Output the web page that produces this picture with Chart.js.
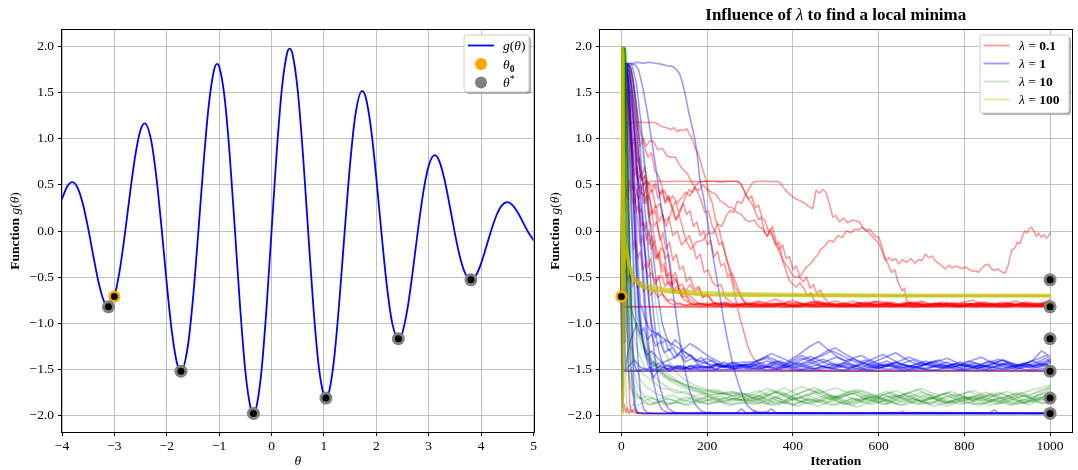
<!DOCTYPE html>
<html><head><meta charset="utf-8">
<script src="https://cdn.jsdelivr.net/npm/chart.js@4.4.1/dist/chart.umd.min.js"></script>
<style>
html,body{margin:0;padding:0;background:#fff;}
#wrap{position:relative;width:1078px;height:470px;overflow:hidden;}
canvas{position:absolute;top:0;}
</style></head><body>
<div id="wrap">
<canvas id="c1" width="540" height="470" style="left:0;width:540px;height:470px"></canvas>
<canvas id="c2" width="538" height="470" style="left:540px;width:538px;height:470px"></canvas>
</div>
<script>
// ---------------- DATA: left panel ----------------
const THETA = [-4.0,-3.9,-3.806,-3.7,-3.6,-3.5,-3.4,-3.3,-3.2,-3.114,-3.0,-2.9,-2.8,-2.7,-2.6,-2.5,-2.421,-2.3,-2.2,-2.1,-2.0,-1.9,-1.8,-1.729,-1.6,-1.5,-1.4,-1.3,-1.2,-1.1,-1.038,-1.0,-0.9,-0.8,-0.7,-0.6,-0.5,-0.4,-0.346,-0.3,-0.2,-0.1,
 0.0,0.1,0.2,0.3,0.346,0.4,0.5,0.6,0.7,0.8,0.9,1.0,1.038,1.1,1.2,1.3,1.4,1.5,1.6,1.729,1.8,1.9,2.0,2.1,2.2,2.3,2.421,2.5,2.6,2.7,2.8,2.9,3.0,3.114,3.2,3.3,3.4,3.5,3.6,3.7,3.806,3.9,4.0,4.1,4.2,4.3,4.4,4.498,4.6,4.7,4.8,4.9,5.0];
const G_VALUES = [0.351,0.483,0.530,0.466,0.291,0.028,-0.277,-0.562,-0.761,-0.822,-0.709,-0.433,-0.033,0.417,0.824,1.097,1.168,0.988,0.589,0.034,-0.573,-1.105,-1.445,-1.520,-1.258,-0.734,-0.028,0.720,1.356,1.741,1.812,1.785,1.465,0.835,0.016,-0.827,-1.521,-1.919,-1.978,-1.936,-1.561,-0.869,
 0,0.869,1.561,1.936,1.978,1.919,1.521,0.827,-0.016,-0.835,-1.465,-1.785,-1.812,-1.741,-1.356,-0.720,0.028,0.734,1.258,1.520,1.445,1.105,0.573,-0.034,-0.589,-0.988,-1.168,-1.097,-0.824,-0.417,0.033,0.433,0.709,0.822,0.761,0.562,0.277,-0.028,-0.291,-0.466,-0.530,-0.483,-0.351,-0.169,0.020,0.179,0.280,0.3125,0.281,0.200,0.094,-0.013,-0.100];
const STAR_X = [-3.114,-1.729,-0.346,1.038,2.421,3.806];
const STAR_Y = [-0.822,-1.520,-1.978,-1.812,-1.168,-0.530];
const THETA0_X = -3.0;
const THETA0_Y = -0.71;
const THETA_TICKS = [-4,-3,-2,-1,0,1,2,3,4,5];
const Y_TICKS = [-2,-1.5,-1,-0.5,0,0.5,1,1.5,2];
const ITER_TICKS = [0,200,400,600,800,1000];
const LEGEND_RIGHT = ['0.1','1','10','100'];

// ---------------- DATA: right panel (iteration, value) ----------------
const L_GRID = [300,320,340,360,380,400,420,440,460,480,500,520,540,560,580,600,620,640,660,680,700,720,740,760,780,800,820,840,860,880,900,920,940,960,980,1000];
const L_GRID2 = [310,330,350,370,390,410,430,450,470,490,510,530,550,570,590,610,630,650,670,690,710,730,750,770,790,810,830,850,870,890,910,930,950,970,990,1000];

const RB_a = [-0.80,-0.82,-0.79,-0.81,-0.83,-0.80,-0.78,-0.81,-0.82,-0.80,-0.79,-0.82,-0.81,-0.78,-0.80,-0.82,-0.81,-0.79,-0.80,-0.83,-0.81,-0.79,-0.82,-0.80,-0.78,-0.81,-0.82,-0.80,-0.79,-0.81,-0.83,-0.80,-0.81,-0.79,-0.82,-0.80];
const RB_b = [-0.78,-0.76,-0.79,-0.81,-0.78,-0.75,-0.79,-0.80,-0.77,-0.80,-0.82,-0.79,-0.76,-0.78,-0.81,-0.79,-0.77,-0.80,-0.82,-0.78,-0.76,-0.79,-0.81,-0.78,-0.80,-0.77,-0.75,-0.79,-0.81,-0.80,-0.78,-0.76,-0.79,-0.81,-0.78,-0.77];
const RB_c = [-0.82,-0.80,-0.81,-0.78,-0.80,-0.82,-0.81,-0.79,-0.76,-0.79,-0.81,-0.82,-0.80,-0.81,-0.78,-0.80,-0.82,-0.81,-0.77,-0.79,-0.81,-0.82,-0.80,-0.78,-0.81,-0.82,-0.79,-0.80,-0.82,-0.78,-0.80,-0.81,-0.79,-0.82,-0.80,-0.79];
const RB_d = [-0.79,-0.81,-0.77,-0.74,-0.78,-0.80,-0.82,-0.79,-0.81,-0.78,-0.76,-0.79,-0.82,-0.80,-0.79,-0.76,-0.78,-0.81,-0.79,-0.80,-0.77,-0.80,-0.78,-0.81,-0.79,-0.82,-0.80,-0.77,-0.79,-0.82,-0.79,-0.80,-0.77,-0.78,-0.80,-0.74];
const RB_e = [-0.81,-0.79,-0.82,-0.80,-0.79,-0.81,-0.80,-0.82,-0.79,-0.81,-0.80,-0.78,-0.81,-0.82,-0.80,-0.81,-0.79,-0.82,-0.80,-0.81,-0.82,-0.80,-0.79,-0.81,-0.82,-0.80,-0.81,-0.79,-0.80,-0.82,-0.81,-0.80,-0.82,-0.80,-0.81,-0.79];
const RB_f = [-0.80,-0.77,-0.80,-0.82,-0.79,-0.80,-0.81,-0.77,-0.79,-0.82,-0.80,-0.78,-0.80,-0.79,-0.82,-0.81,-0.78,-0.80,-0.79,-0.77,-0.80,-0.82,-0.79,-0.80,-0.81,-0.78,-0.80,-0.81,-0.79,-0.80,-0.78,-0.81,-0.80,-0.82,-0.79,-0.81];
const RB_g = [-0.79,-0.81,-0.80,-0.78,-0.81,-0.82,-0.79,-0.80,-0.78,-0.81,-0.80,-0.82,-0.79,-0.77,-0.80,-0.81,-0.79,-0.82,-0.80,-0.78,-0.81,-0.79,-0.80,-0.82,-0.81,-0.79,-0.78,-0.80,-0.82,-0.81,-0.79,-0.80,-0.78,-0.81,-0.80,-0.79];
const RB_h = [-0.81,-0.80,-0.78,-0.80,-0.82,-0.80,-0.79,-0.76,-0.79,-0.81,-0.82,-0.80,-0.78,-0.80,-0.81,-0.79,-0.82,-0.80,-0.78,-0.79,-0.81,-0.80,-0.77,-0.80,-0.82,-0.80,-0.79,-0.81,-0.78,-0.80,-0.82,-0.79,-0.80,-0.81,-0.77,-0.78];
const RB_i = [-0.80,-0.82,-0.81,-0.79,-0.80,-0.77,-0.80,-0.82,-0.80,-0.79,-0.81,-0.80,-0.82,-0.79,-0.76,-0.79,-0.81,-0.80,-0.82,-0.80,-0.79,-0.81,-0.82,-0.80,-0.78,-0.80,-0.81,-0.82,-0.79,-0.80,-0.81,-0.78,-0.80,-0.82,-0.80,-0.81];
const RB_j = [-0.82,-0.81,-0.82,-0.80,-0.81,-0.82,-0.80,-0.81,-0.82,-0.81,-0.80,-0.82,-0.81,-0.82,-0.80,-0.81,-0.82,-0.81,-0.80,-0.82,-0.81,-0.82,-0.81,-0.80,-0.82,-0.81,-0.82,-0.80,-0.81,-0.82,-0.81,-0.80,-0.82,-0.81,-0.82,-0.81];
const RB_k = [-0.78,-0.80,-0.79,-0.81,-0.77,-0.79,-0.81,-0.80,-0.78,-0.80,-0.82,-0.79,-0.81,-0.80,-0.77,-0.80,-0.79,-0.81,-0.78,-0.80,-0.82,-0.79,-0.80,-0.78,-0.81,-0.79,-0.80,-0.82,-0.80,-0.77,-0.80,-0.81,-0.79,-0.80,-0.78,-0.76];

const BB_a = [-1.46,-1.43,-1.45,-1.41,-1.44,-1.38,-1.32,-1.25,-1.20,-1.28,-1.35,-1.41,-1.38,-1.43,-1.46,-1.44,-1.47,-1.43,-1.45,-1.48,-1.46,-1.42,-1.45,-1.47,-1.44,-1.46,-1.43,-1.45,-1.48,-1.46,-1.44,-1.47,-1.45,-1.40,-1.30,-1.36];
const BB_b = [-1.44,-1.40,-1.36,-1.40,-1.45,-1.42,-1.38,-1.41,-1.36,-1.30,-1.27,-1.33,-1.38,-1.35,-1.40,-1.44,-1.41,-1.46,-1.43,-1.40,-1.44,-1.47,-1.45,-1.42,-1.46,-1.44,-1.40,-1.37,-1.42,-1.45,-1.43,-1.47,-1.44,-1.46,-1.42,-1.40];
const BB_c = [-1.48,-1.50,-1.47,-1.49,-1.46,-1.48,-1.50,-1.47,-1.45,-1.48,-1.49,-1.46,-1.48,-1.50,-1.47,-1.49,-1.46,-1.48,-1.45,-1.47,-1.49,-1.48,-1.46,-1.49,-1.47,-1.50,-1.48,-1.46,-1.49,-1.47,-1.48,-1.50,-1.47,-1.49,-1.46,-1.48];
const BB_d = [-1.45,-1.41,-1.38,-1.43,-1.46,-1.40,-1.35,-1.39,-1.44,-1.41,-1.37,-1.40,-1.45,-1.48,-1.44,-1.40,-1.36,-1.32,-1.38,-1.43,-1.46,-1.44,-1.41,-1.38,-1.42,-1.46,-1.48,-1.45,-1.42,-1.39,-1.43,-1.46,-1.44,-1.41,-1.45,-1.43];
const BB_e = [-1.47,-1.45,-1.48,-1.44,-1.46,-1.49,-1.45,-1.42,-1.46,-1.48,-1.45,-1.43,-1.47,-1.45,-1.48,-1.46,-1.44,-1.47,-1.49,-1.46,-1.43,-1.45,-1.48,-1.46,-1.44,-1.47,-1.45,-1.48,-1.46,-1.43,-1.46,-1.48,-1.45,-1.47,-1.44,-1.46];
const BB_f = [-1.50,-1.49,-1.51,-1.50,-1.48,-1.50,-1.51,-1.49,-1.50,-1.48,-1.50,-1.51,-1.49,-1.50,-1.51,-1.48,-1.50,-1.49,-1.51,-1.50,-1.49,-1.51,-1.50,-1.48,-1.50,-1.51,-1.49,-1.50,-1.51,-1.49,-1.50,-1.48,-1.50,-1.51,-1.49,-1.50];
const BB_g = [-1.47,-1.44,-1.41,-1.45,-1.48,-1.45,-1.40,-1.36,-1.40,-1.44,-1.47,-1.43,-1.39,-1.42,-1.46,-1.49,-1.45,-1.42,-1.46,-1.49,-1.47,-1.43,-1.40,-1.44,-1.47,-1.45,-1.48,-1.44,-1.41,-1.45,-1.48,-1.46,-1.43,-1.46,-1.44,-1.41];
const BB_h = [-1.45,-1.48,-1.44,-1.41,-1.45,-1.48,-1.46,-1.42,-1.39,-1.43,-1.46,-1.49,-1.45,-1.42,-1.38,-1.34,-1.39,-1.44,-1.47,-1.44,-1.41,-1.45,-1.48,-1.45,-1.42,-1.46,-1.49,-1.46,-1.43,-1.40,-1.44,-1.47,-1.45,-1.42,-1.38,-1.42];
const BB_i = [-1.49,-1.46,-1.48,-1.50,-1.47,-1.45,-1.48,-1.50,-1.47,-1.49,-1.46,-1.44,-1.47,-1.50,-1.48,-1.45,-1.47,-1.49,-1.46,-1.48,-1.50,-1.47,-1.45,-1.48,-1.50,-1.47,-1.49,-1.46,-1.48,-1.50,-1.47,-1.45,-1.48,-1.46,-1.44,-1.47];
const BB_j = [-1.42,-1.38,-1.33,-1.37,-1.41,-1.45,-1.42,-1.38,-1.35,-1.30,-1.34,-1.39,-1.43,-1.40,-1.44,-1.47,-1.44,-1.41,-1.37,-1.40,-1.44,-1.41,-1.45,-1.48,-1.45,-1.41,-1.44,-1.47,-1.43,-1.40,-1.43,-1.46,-1.42,-1.39,-1.35,-1.39];
const BB_k = [-1.47,-1.49,-1.46,-1.48,-1.45,-1.43,-1.46,-1.49,-1.47,-1.44,-1.47,-1.49,-1.46,-1.43,-1.46,-1.48,-1.45,-1.47,-1.50,-1.47,-1.44,-1.47,-1.49,-1.46,-1.48,-1.45,-1.47,-1.50,-1.47,-1.44,-1.47,-1.49,-1.46,-1.48,-1.45,-1.47];

const GB_a = [-1.82,-1.78,-1.84,-1.80,-1.76,-1.81,-1.85,-1.79,-1.83,-1.86,-1.80,-1.77,-1.82,-1.84,-1.79,-1.81,-1.85,-1.82,-1.78,-1.80,-1.84,-1.87,-1.83,-1.79,-1.82,-1.85,-1.81,-1.78,-1.83,-1.86,-1.82,-1.79,-1.84,-1.81,-1.77,-1.80];
const GB_b = [-1.76,-1.73,-1.78,-1.74,-1.70,-1.75,-1.79,-1.76,-1.72,-1.77,-1.80,-1.76,-1.73,-1.78,-1.81,-1.77,-1.74,-1.79,-1.82,-1.78,-1.75,-1.79,-1.83,-1.80,-1.77,-1.81,-1.84,-1.80,-1.78,-1.82,-1.79,-1.76,-1.80,-1.77,-1.74,-1.70];
const GB_c = [-1.87,-1.85,-1.88,-1.84,-1.86,-1.89,-1.85,-1.87,-1.90,-1.86,-1.84,-1.87,-1.89,-1.85,-1.88,-1.86,-1.83,-1.87,-1.89,-1.86,-1.88,-1.85,-1.87,-1.90,-1.86,-1.84,-1.88,-1.86,-1.89,-1.87,-1.85,-1.88,-1.86,-1.84,-1.87,-1.85];
const GB_d = [-1.83,-1.80,-1.77,-1.81,-1.84,-1.79,-1.75,-1.72,-1.76,-1.80,-1.83,-1.79,-1.76,-1.80,-1.83,-1.86,-1.82,-1.78,-1.81,-1.84,-1.80,-1.77,-1.81,-1.85,-1.82,-1.79,-1.83,-1.80,-1.76,-1.79,-1.83,-1.81,-1.78,-1.82,-1.80,-1.76];
const GB_e = [-1.84,-1.87,-1.83,-1.80,-1.84,-1.88,-1.85,-1.82,-1.86,-1.83,-1.79,-1.83,-1.87,-1.84,-1.81,-1.85,-1.88,-1.84,-1.82,-1.86,-1.83,-1.80,-1.84,-1.87,-1.83,-1.81,-1.85,-1.88,-1.84,-1.81,-1.85,-1.82,-1.86,-1.83,-1.80,-1.78];
const GB_f = [-1.85,-1.82,-1.86,-1.89,-1.84,-1.81,-1.85,-1.88,-1.83,-1.86,-1.89,-1.85,-1.82,-1.86,-1.84,-1.80,-1.84,-1.87,-1.84,-1.81,-1.85,-1.88,-1.84,-1.86,-1.83,-1.87,-1.85,-1.82,-1.85,-1.88,-1.84,-1.86,-1.83,-1.85,-1.82,-1.84];
const GB_g = [-1.78,-1.75,-1.71,-1.74,-1.78,-1.73,-1.69,-1.72,-1.76,-1.73,-1.70,-1.74,-1.77,-1.73,-1.76,-1.80,-1.76,-1.73,-1.77,-1.74,-1.71,-1.75,-1.78,-1.75,-1.79,-1.76,-1.73,-1.77,-1.80,-1.77,-1.74,-1.78,-1.75,-1.72,-1.70,-1.67];
const GB_h = [-1.81,-1.84,-1.80,-1.83,-1.87,-1.83,-1.80,-1.84,-1.81,-1.78,-1.82,-1.85,-1.81,-1.84,-1.80,-1.83,-1.86,-1.83,-1.79,-1.82,-1.85,-1.82,-1.80,-1.83,-1.86,-1.83,-1.80,-1.84,-1.82,-1.85,-1.81,-1.84,-1.87,-1.84,-1.81,-1.83];
const GB_i = [-1.79,-1.82,-1.78,-1.75,-1.79,-1.83,-1.80,-1.77,-1.74,-1.78,-1.82,-1.79,-1.76,-1.80,-1.77,-1.81,-1.84,-1.80,-1.77,-1.80,-1.78,-1.82,-1.79,-1.76,-1.80,-1.83,-1.79,-1.82,-1.78,-1.75,-1.79,-1.82,-1.78,-1.81,-1.77,-1.74];
const GB_j = [-1.80,-1.83,-1.86,-1.82,-1.79,-1.83,-1.86,-1.82,-1.85,-1.81,-1.84,-1.88,-1.84,-1.81,-1.85,-1.82,-1.79,-1.83,-1.86,-1.82,-1.85,-1.81,-1.84,-1.87,-1.83,-1.80,-1.84,-1.81,-1.85,-1.82,-1.79,-1.83,-1.86,-1.82,-1.84,-1.81];
const GB_k = [-1.84,-1.81,-1.85,-1.88,-1.84,-1.80,-1.83,-1.86,-1.82,-1.79,-1.83,-1.87,-1.84,-1.81,-1.85,-1.82,-1.78,-1.81,-1.85,-1.88,-1.84,-1.81,-1.84,-1.87,-1.83,-1.80,-1.83,-1.86,-1.82,-1.85,-1.88,-1.84,-1.81,-1.84,-1.80,-1.77];
const GB_l = [-1.78,-1.81,-1.77,-1.74,-1.78,-1.82,-1.79,-1.76,-1.80,-1.83,-1.79,-1.75,-1.72,-1.76,-1.80,-1.77,-1.81,-1.78,-1.75,-1.79,-1.83,-1.80,-1.77,-1.81,-1.78,-1.74,-1.78,-1.82,-1.79,-1.76,-1.80,-1.77,-1.81,-1.78,-1.74,-1.71];
const GB_m = [-1.88,-1.86,-1.89,-1.85,-1.87,-1.90,-1.87,-1.84,-1.87,-1.89,-1.86,-1.88,-1.91,-1.87,-1.85,-1.88,-1.86,-1.89,-1.86,-1.84,-1.87,-1.90,-1.87,-1.85,-1.88,-1.86,-1.89,-1.87,-1.84,-1.87,-1.89,-1.86,-1.88,-1.85,-1.87,-1.84];
const GB_n = [-1.81,-1.77,-1.73,-1.76,-1.80,-1.77,-1.73,-1.70,-1.74,-1.78,-1.81,-1.77,-1.74,-1.78,-1.82,-1.78,-1.75,-1.79,-1.76,-1.72,-1.76,-1.80,-1.77,-1.74,-1.78,-1.81,-1.78,-1.75,-1.79,-1.82,-1.78,-1.75,-1.78,-1.74,-1.71,-1.68];

// red runs (lambda = 0.1)
const R1 = [[0,-0.71],[2,0.3],[4,1.2],[7,1.7],[12,1.78],[18,1.6],[25,1.3],[32,1.0],[40,0.75],[48,0.55],[56,0.6],[64,0.4],[72,0.45],[80,0.25],[90,0.3],[100,0.1],[110,0.15],[120,-0.05],[130,0.0],[140,-0.15],[150,-0.1],[162,-0.2],[175,-0.12],[190,-0.1],[202,-0.02],[214,-0.03],[224,0.08],[234,0.05],[244,0.16],[253,0.22],[262,0.2],[270,0.32],[280,0.30],[290,0.40],[299,0.47],[307,0.53],[320,0.54],[335,0.54],[350,0.535],[362,0.54],[369,0.53],[380,0.46],[392,0.40],[403,0.36],[415,0.33],[425,0.31],[436,0.27],[446,0.24],[454,0.44],[462,0.41],[470,0.45],[477,0.42],[485,0.30],[493,0.15],[500,0.17],[508,0.10],[518,0.14],[528,0.09],[540,0.12],[555,0.10],[563,0.04],[570,0.0],[580,0.02],[590,-0.05],[601,-0.07],[608,-0.18],[616,-0.32],[624,-0.29],[632,-0.32],[640,-0.30],[647,-0.36],[655,-0.31],[665,-0.34],[675,-0.30],[685,-0.35],[693,-0.31],[701,-0.32],[709,-0.25],[717,-0.29],[725,-0.27],[732,-0.32],[740,-0.35],[748,-0.38],[756,-0.41],[764,-0.37],[772,-0.40],[780,-0.38],[787,-0.39],[795,-0.41],[803,-0.39],[812,-0.42],[820,-0.44],[827,-0.43],[833,-0.45],[840,-0.41],[848,-0.37],[856,-0.36],[863,-0.41],[870,-0.43],[878,-0.41],[886,-0.44],[895,-0.46],[902,-0.38],[910,-0.21],[917,-0.19],[924,-0.12],[930,-0.14],[936,-0.05],[941,0.0],[947,-0.02],[952,0.03],[957,0.04],[963,-0.01],[968,-0.06],[973,-0.02],[980,-0.07],[986,-0.04],[992,-0.08],[997,-0.05],[1000,-0.02]];
const R2 = [[0,-0.71],[2,0.2],[4,0.8],[7,1.1],[10,1.18],[20,1.17],[30,1.18],[45,1.18],[60,1.175],[75,1.18],[85,1.16],[95,1.13],[105,1.12],[115,1.10],[122,1.12],[130,1.08],[138,1.10],[146,1.09],[152,1.11],[158,1.06],[165,1.0],[172,0.90],[178,0.85],[183,0.78],[190,0.66],[197,0.56],[204,0.40],[212,0.30],[220,0.12],[228,0.02],[236,-0.15],[244,-0.28],[252,-0.43],[261,-0.61],[270,-0.82],[278,-0.97],[286,-1.10],[294,-1.24],[302,-1.33],[310,-1.39],[320,-1.43],[330,-1.46],[345,-1.49],[369,-1.51],[450,-1.515],[600,-1.52],[800,-1.515],[1000,-1.52]];
const R3 = [[0,-0.71],[1,-1.1],[2,-1.45],[4,-1.52],[100,-1.52],[400,-1.52],[700,-1.515],[1000,-1.52]];
const R4 = [[0,-0.71],[2,-0.78],[5,-0.82],[10,-0.825],[1000,-0.825]];
const R5 = [[0,-0.71],[1,-0.5],[2,-0.3],[3,-0.7],[5,-0.83],[9,-0.82],[1000,-0.82]];
const R7 = [[0,-0.71],[2,-1.4],[4,-1.96],[7,-1.88],[10,-1.97],[14,-1.92],[18,-1.98],[24,-1.94],[30,-1.97],[40,-1.98],[200,-1.975],[206,-1.96],[212,-1.975],[400,-1.975],[650,-1.97],[656,-1.955],[662,-1.975],[1000,-1.975]];
const R18 = [[0,-0.71],[2,0.9],[4,1.7],[6,1.2],[9,0.2],[12,-0.8],[16,-1.5],[20,-1.9],[24,-1.97],[30,-1.93],[36,-1.97],[50,-1.98],[300,-1.975],[310,-1.955],[318,-1.975],[1000,-1.98]];
const R8_HEAD = [[0,-0.71],[2,0.6],[4,1.3],[7,1.75],[12,1.8],[18,1.72],[25,1.5],[32,1.2],[38,0.9],[45,0.6],[52,0.5],[58,0.55],[65,0.1],[72,0.05],[78,-0.1],[85,-0.3],[92,-0.18],[100,-0.22],[106,-0.45],[115,-0.6],[122,-0.5],[130,-0.56],[140,-0.72],[150,-0.70],[160,-0.78],[170,-0.80],[185,-0.79],[200,-0.81],[220,-0.78],[240,-0.80],[260,-0.82],[280,-0.79]];
const R9_HEAD = [[0,-0.71],[2,0.9],[5,1.6],[9,1.82],[15,1.80],[22,1.78],[28,1.6],[34,1.4],[40,1.2],[46,1.05],[52,1.0],[58,0.92],[66,0.98],[75,0.97],[85,0.88],[95,0.90],[105,0.82],[115,0.80],[126,0.80],[135,0.72],[145,0.66],[154,0.62],[162,0.55],[170,0.48],[178,0.42],[186,0.33],[195,0.20],[203,0.22],[212,0.05],[220,-0.02],[228,-0.15],[236,-0.12],[245,-0.30],[254,-0.42],[262,-0.50],[270,-0.60],[278,-0.70],[288,-0.78]];
const R10 = [[0,-0.71],[2,-0.1],[4,0.6],[7,1.2],[11,1.5],[16,1.35],[22,1.0],[28,0.7],[34,0.45],[40,0.35],[46,0.42],[52,0.38],[58,0.48],[64,0.52],[70,0.54],[90,0.54],[110,0.535],[130,0.54],[150,0.54],[170,0.535],[190,0.54],[210,0.54],[230,0.535],[250,0.54],[266,0.54],[276,0.53],[284,0.46],[292,0.38],[299,0.33],[306,0.28],[313,0.20],[320,0.12],[326,0.15],[333,0.0],[340,-0.06],[347,0.02],[354,-0.08],[361,-0.15],[368,-0.12],[375,-0.30],[383,-0.42],[392,-0.54],[400,-0.58],[408,-0.61],[416,-0.56],[425,-0.62],[434,-0.70],[442,-0.67],[450,-0.76],[460,-0.79],[470,-0.80],[490,-0.78],[510,-0.81],[530,-0.79],[550,-0.82],[570,-0.78],[590,-0.80],[610,-0.81],[630,-0.77],[650,-0.80],[670,-0.82],[690,-0.79],[710,-0.80],[730,-0.78],[750,-0.81],[770,-0.80],[790,-0.82],[810,-0.79],[830,-0.80],[850,-0.77],[870,-0.80],[890,-0.81],[910,-0.79],[930,-0.82],[950,-0.80],[970,-0.78],[990,-0.80],[1000,-0.79]];
const R12 = [[0,-0.71],[2,0.5],[4,1.4],[6,1.8],[10,1.78],[15,1.55],[20,1.2],[26,0.9],[32,0.7],[38,0.55],[45,0.62],[52,0.5],[60,0.54],[70,0.48],[80,0.52],[90,0.40],[100,0.44],[110,0.32],[120,0.38],[130,0.30],[140,0.36],[150,0.42],[160,0.38],[170,0.47],[180,0.44],[190,0.50],[200,0.45],[210,0.42],[220,0.40],[230,0.33],[240,0.30],[250,0.26],[260,0.25],[270,0.20],[280,0.18],[290,0.12],[300,0.10],[310,0.12],[320,0.05],[330,0.02],[340,-0.05],[350,-0.02],[360,-0.15],[368,-0.22],[375,-0.30],[383,-0.36],[390,-0.40],[398,-0.47],[405,-0.50],[415,-0.50],[423,-0.45],[430,-0.40],[440,-0.36],[450,-0.30],[458,-0.26],[465,-0.20],[475,-0.16],[485,-0.10],[495,-0.12],[505,-0.05],[515,-0.07],[525,0.00],[535,-0.02],[545,0.02],[553,0.01],[560,0.04],[568,0.02],[575,0.0],[583,-0.05],[590,-0.08],[601,-0.14],[608,-0.22],[615,-0.30],[622,-0.36],[630,-0.45],[638,-0.42],[645,-0.55],[650,-0.60],[655,-0.65],[660,-0.62],[665,-0.75],[672,-0.78],[680,-0.80],[700,-0.79],[720,-0.81],[740,-0.78],[760,-0.80],[780,-0.82],[800,-0.79],[820,-0.80],[840,-0.78],[860,-0.81],[880,-0.80],[900,-0.79],[920,-0.81],[940,-0.78],[960,-0.80],[980,-0.82],[1000,-0.79]];
const R14_HEAD = [[0,-0.71],[2,-0.3],[4,0.4],[7,0.2],[10,0.5],[14,0.35],[20,0.55],[26,0.3],[32,0.35],[38,0.1],[44,-0.15],[50,-0.05],[56,-0.25],[62,-0.4],[68,-0.3],[74,-0.5],[80,-0.55],[87,-0.48],[95,-0.68],[103,-0.72],[112,-0.78],[122,-0.80],[135,-0.78],[150,-0.81],[165,-0.79],[180,-0.82],[200,-0.80],[220,-0.78],[240,-0.81],[260,-0.80],[280,-0.82]];
const R15_HEAD = [[0,-0.71],[2,1.0],[4,1.8],[8,1.75],[12,1.6],[17,1.3],[22,0.95],[27,0.65],[32,0.3],[37,0.45],[42,0.2],[47,0.25],[53,0.0],[59,0.1],[65,-0.15],[72,-0.05],[79,-0.3],[86,-0.25],[93,-0.45],[100,-0.4],[108,-0.58],[116,-0.55],[125,-0.66],[135,-0.62],[145,-0.74],[155,-0.77],[165,-0.80],[180,-0.78],[200,-0.81],[220,-0.79],[240,-0.77],[260,-0.80],[280,-0.81]];
const R16_HEAD = [[0,-0.71],[2,0.6],[4,1.2],[7,1.6],[11,1.8],[17,1.78],[23,1.62],[29,1.38],[35,1.05],[41,0.75],[47,0.55],[53,0.6],[59,0.35],[65,0.4],[72,0.18],[79,0.22],[86,0.0],[94,-0.12],[102,-0.3],[110,-0.25],[118,-0.5],[126,-0.45],[134,-0.6],[142,-0.58],[152,-0.68],[165,-0.72],[178,-0.78],[190,-0.80],[210,-0.79],[230,-0.82],[250,-0.80],[270,-0.78],[285,-0.81]];
const R17_HEAD = [[0,-0.71],[2,0.2],[4,1.3],[7,1.82],[14,1.81],[20,1.72],[26,1.5],[32,1.3],[38,1.1],[44,0.92],[50,1.0],[56,0.88],[62,0.8],[70,0.85],[78,0.65],[86,0.6],[94,0.5],[102,0.32],[110,0.38],[118,0.25],[126,0.12],[134,0.18],[142,0.05],[150,-0.1],[158,-0.05],[166,-0.15],[175,-0.3],[184,-0.25],[193,-0.45],[202,-0.42],[212,-0.55],[222,-0.6],[232,-0.58],[242,-0.72],[252,-0.76],[262,-0.79],[275,-0.80],[288,-0.78]];
const R19_HEAD = [[0,-0.71],[2,0.4],[4,1.1],[6,1.5],[9,1.7],[13,1.5],[17,1.1],[21,0.7],[25,0.45],[30,0.5],[35,0.2],[40,0.3],[46,0.05],[52,0.1],[58,-0.1],[64,0.0],[70,-0.2],[76,-0.1],[82,-0.3],[88,-0.22],[94,-0.4],[100,-0.35],[106,-0.5],[112,-0.45],[120,-0.58],[128,-0.52],[136,-0.66],[145,-0.62],[155,-0.72],[165,-0.76],[178,-0.80],[195,-0.78],[215,-0.81],[235,-0.79],[255,-0.82],[275,-0.80],[295,-0.79]];
const R20_HEAD = [[0,-0.71],[2,1.3],[4,1.8],[9,1.78],[14,1.6],[20,1.25],[26,0.9],[31,0.6],[36,0.7],[41,0.45],[46,0.5],[52,0.3],[58,0.38],[64,0.15],[70,0.22],[76,0.05],[83,0.1],[90,-0.1],[97,-0.02],[104,-0.2],[112,-0.12],[120,-0.32],[128,-0.25],[136,-0.42],[144,-0.38],[152,-0.55],[160,-0.5],[170,-0.63],[180,-0.6],[190,-0.72],[202,-0.7],[214,-0.78],[228,-0.80],[245,-0.79],[262,-0.81],[280,-0.79],[298,-0.80]];
const R21_HEAD = [[0,-0.71],[2,0.8],[5,1.5],[8,1.8],[13,1.75],[19,1.45],[25,1.15],[31,0.85],[37,0.6],[43,0.42],[50,0.5],[57,0.3],[64,0.38],[72,0.2],[80,0.28],[88,0.1],[96,0.18],[104,0.05],[112,0.15],[120,0.25],[128,0.12],[136,0.2],[144,0.3],[152,0.18],[160,0.22],[168,0.05],[176,0.1],[184,-0.05],[192,0.0],[200,-0.15],[208,-0.1],[216,-0.28],[224,-0.22],[232,-0.38],[240,-0.35],[248,-0.5],[256,-0.46],[264,-0.6],[272,-0.66],[282,-0.74],[292,-0.79]];
const R22_HEAD = [[0,-0.71],[2,-0.4],[4,0.2],[6,-0.1],[8,-0.45],[11,-0.3],[15,-0.55],[20,-0.45],[26,-0.6],[32,-0.5],[38,-0.62],[45,-0.55],[52,-0.66],[60,-0.6],[68,-0.7],[76,-0.64],[85,-0.72],[95,-0.68],[105,-0.76],[118,-0.74],[130,-0.79],[145,-0.80],[160,-0.81],[180,-0.79],[200,-0.80],[220,-0.82],[240,-0.79],[260,-0.81],[280,-0.80],[298,-0.81]];
const R23_HEAD = [[0,-0.71],[2,1.6],[4,1.82],[8,1.8],[12,1.5],[16,1.0],[20,0.5],[24,0.1],[28,-0.2],[33,-0.1],[38,-0.3],[44,-0.22],[50,-0.42],[56,-0.35],[62,-0.5],[70,-0.45],[78,-0.58],[86,-0.52],[94,-0.48],[102,-0.6],[110,-0.55],[120,-0.66],[130,-0.6],[140,-0.7],[150,-0.65],[160,-0.58],[170,-0.66],[180,-0.62],[190,-0.72],[200,-0.68],[212,-0.76],[225,-0.80],[245,-0.78],[265,-0.81],[285,-0.80],[300,-0.79]];
const R24 = [[0,-0.71],[2,0.7],[5,1.3],[9,1.6],[14,1.4],[19,1.1],[24,0.9],[30,1.0],[36,0.75],[42,0.8],[48,0.6],[55,0.7],[62,0.5],[70,0.42],[78,0.5],[86,0.35],[94,0.45],[102,0.30],[110,0.38],[118,0.25],[126,0.32],[134,0.20],[142,0.28],[150,0.38],[158,0.45],[166,0.42],[174,0.5],[182,0.53],[195,0.54],[215,0.54],[235,0.535],[255,0.54],[270,0.54],[280,0.5],[288,0.42],[296,0.35],[304,0.38],[312,0.25],[320,0.28],[328,0.15],[336,0.1],[344,-0.02],[352,0.05],[360,-0.1],[368,-0.2],[376,-0.15],[384,-0.3],[392,-0.28],[400,-0.42],[408,-0.38],[416,-0.5],[424,-0.55],[432,-0.5],[440,-0.62],[448,-0.58],[456,-0.68],[464,-0.64],[472,-0.72],[480,-0.76],[490,-0.80],[510,-0.79],[530,-0.81],[550,-0.78],[570,-0.80],[590,-0.82],[610,-0.79],[630,-0.80],[650,-0.81],[670,-0.78],[690,-0.80],[710,-0.82],[730,-0.79],[750,-0.80],[770,-0.78],[790,-0.81],[810,-0.80],[830,-0.82],[850,-0.79],[870,-0.81],[890,-0.80],[910,-0.78],[930,-0.80],[950,-0.81],[970,-0.79],[990,-0.82],[1000,-0.80]];

// blue runs (lambda = 1)
const B1 = [[0,-0.71],[2,0.9],[4,1.7],[6,1.2],[9,1.6],[14,1.82],[25,1.81],[35,1.83],[50,1.82],[65,1.83],[80,1.82],[92,1.81],[100,1.80],[108,1.79],[116,1.79],[124,1.77],[130,1.74],[136,1.70],[141,1.63],[148,1.50],[156,1.31],[164,1.15],[172,0.98],[178,0.78],[183,0.55],[190,0.40],[197,0.22],[206,-0.05],[214,-0.28],[222,-0.50],[230,-0.72],[238,-0.95],[245,-1.12],[252,-1.28],[260,-1.45],[268,-1.58],[276,-1.70],[284,-1.80],[292,-1.88],[302,-1.93],[315,-1.96],[330,-1.975],[400,-1.98],[1000,-1.98]];
const B2 = [[0,-0.71],[2,0.6],[4,1.82],[10,1.81],[20,1.82],[32,1.80],[40,1.75],[50,1.55],[60,1.30],[70,1.0],[80,0.7],[90,0.35],[100,0.05],[110,-0.30],[120,-0.65],[130,-1.0],[140,-1.3],[150,-1.55],[160,-1.75],[172,-1.88],[185,-1.95],[200,-1.975],[300,-1.975],[340,-1.96],[350,-1.93],[360,-1.97],[500,-1.975],[700,-1.97],[1000,-1.975]];
const B3 = [[0,-0.71],[1,-1.6],[2,0.9],[3,1.7],[5,1.82],[9,1.80],[14,1.60],[18,1.2],[22,0.6],[26,0.0],[30,-0.6],[35,-1.1],[40,-1.5],[45,-1.8],[52,-1.93],[60,-1.97],[80,-1.98],[1000,-1.98]];
const B4 = [[0,-0.71],[2,1.5],[4,0.2],[6,1.82],[12,1.81],[18,1.78],[25,1.5],[32,1.0],[40,0.4],[48,-0.2],[56,-0.8],[65,-1.3],[75,-1.65],[85,-1.85],[95,-1.94],[110,-1.97],[150,-1.975],[270,-1.97],[280,-1.93],[290,-1.97],[600,-1.975],[860,-1.97],[870,-1.94],[880,-1.975],[1000,-1.975]];
const B5 = [[0,-0.71],[2,-1.9],[4,0.5],[6,-1.2],[8,0.1],[12,-0.5],[18,-1.1],[24,-1.6],[30,-1.9],[36,-1.97],[50,-1.98],[1000,-1.98]];
const B6 = [[0,-0.71],[2,1.0],[4,1.82],[8,1.7],[12,1.2],[16,0.5],[20,-0.3],[24,-1.0],[28,-1.6],[32,-1.9],[38,-1.97],[60,-1.98],[400,-1.975],[1000,-1.98]];
const B7_HEAD = [[0,-0.71],[2,0.3],[4,1.8],[8,1.82],[14,1.75],[20,1.4],[26,0.9],[32,0.3],[38,-0.3],[44,-0.79],[55,-0.95],[67,-1.08],[85,-1.12],[106,-1.19],[130,-1.26],[152,-1.33],[175,-1.40],[199,-1.44],[225,-1.46],[253,-1.48],[280,-1.45]];
const B8_HEAD = [[0,-0.71],[2,-1.3],[4,-1.52],[10,-1.50],[20,-1.45],[30,-1.40],[45,-1.48],[60,-1.50],[80,-1.45],[100,-1.42],[120,-1.38],[140,-1.30],[160,-1.22],[180,-1.28],[200,-1.35],[220,-1.40],[240,-1.45],[260,-1.43],[280,-1.47]];
const B9_HEAD = [[0,-0.71],[3,1.82],[10,1.80],[16,1.6],[22,1.0],[28,0.4],[34,-0.2],[40,-0.7],[48,-1.1],[56,-1.35],[64,-1.48],[75,-1.50],[90,-1.47],[110,-1.50],[130,-1.46],[150,-1.49],[175,-1.45],[200,-1.48],[225,-1.44],[250,-1.47],[280,-1.45]];
const B10_HEAD = [[0,-0.71],[2,0.9],[5,1.82],[15,1.81],[25,1.79],[35,1.6],[45,1.2],[55,0.7],[65,0.2],[75,-0.3],[85,-0.7],[95,-1.0],[105,-1.15],[115,-1.25],[125,-1.18],[135,-1.22],[145,-1.30],[160,-1.35],[180,-1.42],[200,-1.38],[220,-1.44],[240,-1.47],[260,-1.42],[280,-1.46]];
const B11_HEAD = [[0,-0.71],[2,-0.2],[4,1.6],[6,1.82],[12,1.80],[18,1.5],[24,0.9],[30,0.2],[36,-0.5],[42,-0.95],[50,-1.2],[60,-1.35],[70,-1.30],[85,-1.38],[100,-1.45],[120,-1.48],[140,-1.46],[160,-1.50],[180,-1.47],[200,-1.49],[230,-1.46],[260,-1.50],[280,-1.48]];
const B12_HEAD = [[0,-0.71],[2,1.82],[6,1.80],[10,1.5],[14,0.8],[18,0.0],[22,-0.7],[26,-1.2],[30,-1.45],[36,-1.52],[50,-1.50],[70,-1.51],[100,-1.50],[150,-1.49],[200,-1.51],[250,-1.50],[280,-1.49]];
const B13 = [[0,-0.71],[2,-1.50],[5,-1.52],[300,-1.515],[600,-1.52],[1000,-1.515]];
const B14 = [[0,-0.71],[2,1.82],[5,1.79],[9,1.81],[14,1.75],[20,1.55],[28,1.2],[36,0.8],[44,0.35],[52,-0.1],[60,-0.55],[68,-0.95],[76,-1.3],[84,-1.55],[92,-1.73],[100,-1.85],[110,-1.93],[125,-1.97],[150,-1.98],[1000,-1.98]];
const B15_HEAD = [[0,-0.71],[2,1.3],[4,1.82],[8,1.80],[13,1.81],[18,1.72],[24,1.45],[30,1.05],[36,0.6],[42,0.1],[48,-0.4],[54,-0.85],[60,-1.2],[66,-1.45],[72,-1.6],[80,-1.55],[90,-1.5],[100,-1.47],[112,-1.52],[125,-1.48],[140,-1.50],[160,-1.46],[180,-1.49],[200,-1.47],[220,-1.50],[240,-1.46],[260,-1.48],[280,-1.45]];
const B16_HEAD = [[0,-0.71],[2,1.82],[4,0.5],[6,-1.0],[9,-1.5],[14,-1.35],[20,-1.2],[28,-1.1],[36,-1.0],[44,-1.12],[52,-1.05],[60,-1.18],[70,-1.12],[80,-1.25],[90,-1.2],[100,-1.32],[112,-1.28],[124,-1.38],[136,-1.34],[150,-1.42],[165,-1.38],[180,-1.45],[195,-1.42],[210,-1.47],[225,-1.44],[240,-1.48],[255,-1.45],[270,-1.47],[290,-1.44]];
const B17_HEAD = [[0,-0.71],[2,0.5],[4,1.82],[9,1.8],[14,1.7],[19,1.35],[24,0.8],[29,0.2],[34,-0.4],[40,-0.85],[46,-1.1],[53,-1.28],[60,-1.38],[68,-1.45],[76,-1.42],[85,-1.48],[95,-1.45],[105,-1.5],[118,-1.46],[130,-1.49],[145,-1.47],[160,-1.5],[175,-1.46],[190,-1.49],[205,-1.47],[220,-1.5],[240,-1.46],[260,-1.49],[280,-1.47],[295,-1.49]];
const B18_HEAD = [[0,-0.71],[2,-1.7],[4,-0.6],[6,0.8],[8,1.7],[11,1.82],[16,1.8],[22,1.75],[28,1.6],[34,1.3],[40,0.9],[46,0.45],[52,0.0],[58,-0.4],[64,-0.75],[70,-1.0],[78,-1.15],[86,-1.1],[94,-1.22],[102,-1.18],[110,-1.3],[120,-1.26],[130,-1.35],[140,-1.3],[150,-1.38],[162,-1.34],[174,-1.41],[186,-1.37],[198,-1.43],[212,-1.4],[226,-1.45],[240,-1.42],[255,-1.46],[270,-1.43],[290,-1.42]];
const B19_HEAD = [[0,-0.71],[2,1.1],[4,1.82],[10,1.79],[16,1.81],[22,1.76],[28,1.62],[34,1.4],[40,1.1],[46,0.75],[52,0.4],[58,0.05],[64,-0.3],[70,-0.65],[76,-0.95],[82,-1.18],[88,-1.32],[95,-1.42],[102,-1.48],[110,-1.45],[120,-1.5],[132,-1.47],[145,-1.5],[160,-1.46],[175,-1.49],[190,-1.46],[205,-1.49],[220,-1.45],[235,-1.48],[250,-1.46],[265,-1.49],[280,-1.46],[295,-1.48]];

// green runs (lambda = 10)
const G1_HEAD = [[0,-0.71],[1,1.2],[2,1.98],[4,1.5],[6,1.95],[8,0.8],[10,-0.6],[13,-1.1],[18,-1.2],[25,-1.3],[35,-1.45],[50,-1.55],[70,-1.62],[90,-1.70],[110,-1.72],[130,-1.76],[150,-1.74],[170,-1.79],[190,-1.77],[210,-1.81],[230,-1.79],[250,-1.83],[275,-1.80]];
const G2_HEAD = [[0,-0.71],[1,0.4],[2,1.9],[3,1.99],[5,1.7],[7,1.98],[9,1.2],[11,0.2],[14,-0.5],[20,-0.8],[30,-0.95],[45,-1.15],[60,-1.30],[80,-1.45],[100,-1.55],[125,-1.62],[150,-1.68],[175,-1.72],[200,-1.76],[225,-1.74],[250,-1.79],[275,-1.77]];
const G3_HEAD = [[0,-0.71],[2,1.98],[4,1.97],[6,1.4],[8,1.98],[10,1.0],[12,-0.2],[15,-1.0],[20,-1.45],[28,-1.65],[38,-1.78],[50,-1.84],[65,-1.88],[85,-1.85],[105,-1.89],[125,-1.86],[150,-1.88],[175,-1.84],[200,-1.87],[225,-1.85],[250,-1.89],[275,-1.86]];
const G4_HEAD = [[0,-0.71],[1,-1.8],[2,0.5],[3,1.99],[6,1.98],[9,1.9],[12,1.3],[15,0.2],[18,-0.6],[24,-1.0],[32,-1.2],[42,-1.35],[55,-1.48],[70,-1.55],[90,-1.64],[110,-1.70],[135,-1.74],[160,-1.78],[185,-1.82],[210,-1.80],[240,-1.84],[270,-1.82]];
const G5_HEAD = [[0,-0.71],[2,1.6],[3,1.99],[5,1.96],[7,1.5],[9,1.98],[12,1.97],[14,1.2],[17,-0.2],[20,-1.0],[26,-1.35],[34,-1.50],[45,-1.62],[60,-1.70],[80,-1.76],[100,-1.80],[120,-1.78],[140,-1.83],[165,-1.81],[190,-1.85],[215,-1.82],[245,-1.86],[275,-1.83]];
const G6_HEAD = [[0,-0.71],[1,0.8],[2,1.99],[4,1.98],[6,1.0],[8,-0.5],[10,-1.6],[13,-1.95],[16,-1.98],[20,-1.93],[26,-1.88],[35,-1.90],[50,-1.86],[70,-1.89],[90,-1.84],[115,-1.87],[140,-1.83],[165,-1.86],[190,-1.82],[215,-1.85],[245,-1.81],[275,-1.84]];
const G7_HEAD = [[0,-0.71],[1,1.5],[3,1.98],[5,1.99],[8,1.97],[11,1.8],[14,0.9],[17,0.0],[20,-0.55],[25,-0.85],[32,-1.0],[40,-1.1],[52,-1.25],[66,-1.38],[82,-1.48],[100,-1.57],[120,-1.62],[145,-1.66],[170,-1.70],[200,-1.73],[230,-1.77],[260,-1.75],[280,-1.79]];
const G8_HEAD = [[0,-0.71],[2,1.99],[4,1.5],[6,1.98],[8,1.95],[10,1.2],[12,0.0],[15,-1.3],[18,-1.6],[22,-1.72],[30,-1.80],[42,-1.82],[60,-1.79],[80,-1.83],[100,-1.81],[125,-1.84],[150,-1.80],[175,-1.83],[200,-1.79],[230,-1.82],[255,-1.80],[280,-1.83]];
const G9_HEAD = [[0,-0.71],[2,1.98],[5,1.99],[8,1.6],[11,1.82],[16,1.80],[22,1.75],[30,1.5],[38,1.2],[46,1.0],[55,0.6],[64,0.1],[72,-0.4],[80,-0.8],[90,-1.1],[100,-1.3],[115,-1.45],[130,-1.55],[150,-1.62],[175,-1.68],[200,-1.72],[230,-1.76],[260,-1.74],[285,-1.78]];
const G10_HEAD = [[0,-0.71],[1,1.9],[3,1.99],[6,1.97],[9,1.99],[12,1.6],[16,1.0],[20,0.4],[26,-0.3],[32,-0.7],[40,-1.0],[50,-1.2],[62,-1.35],[76,-1.45],[92,-1.52],[110,-1.60],[130,-1.64],[155,-1.70],[180,-1.74],[210,-1.78],[240,-1.76],[270,-1.80]];
const G11_HEAD = [[0,-0.71],[1,1.99],[3,1.5],[5,1.99],[7,1.96],[9,0.9],[11,-0.4],[14,-1.2],[18,-1.55],[23,-1.7],[30,-1.76],[40,-1.8],[55,-1.84],[70,-1.81],[90,-1.85],[110,-1.82],[135,-1.86],[160,-1.83],[185,-1.86],[210,-1.82],[235,-1.85],[260,-1.82],[290,-1.84]];
const G12_HEAD = [[0,-0.71],[2,1.97],[4,1.99],[7,1.8],[10,1.2],[13,0.3],[17,-0.4],[22,-0.75],[28,-0.95],[36,-1.08],[45,-1.22],[56,-1.34],[68,-1.42],[82,-1.5],[98,-1.58],[115,-1.63],[135,-1.68],[155,-1.72],[180,-1.75],[205,-1.78],[230,-1.76],[260,-1.79],[290,-1.77]];
const G13_HEAD = [[0,-0.71],[1,0.9],[3,1.99],[5,1.97],[7,1.99],[10,1.5],[13,0.6],[16,-0.5],[20,-1.1],[25,-1.4],[32,-1.58],[40,-1.7],[50,-1.78],[62,-1.83],[76,-1.87],[92,-1.85],[110,-1.88],[130,-1.86],[155,-1.89],[180,-1.86],[205,-1.88],[230,-1.85],[260,-1.88],[290,-1.86]];
const G14_HEAD = [[0,-0.71],[2,1.99],[4,1.98],[6,1.99],[9,1.7],[12,1.0],[16,0.2],[20,-0.35],[26,-0.7],[34,-0.9],[44,-1.05],[56,-1.2],[70,-1.33],[86,-1.45],[104,-1.53],[124,-1.6],[146,-1.66],[170,-1.7],[195,-1.74],[220,-1.72],[250,-1.77],[280,-1.75],[295,-1.79]];

// yellow runs (lambda = 100)
const Y1 = [[0,-0.71],[1,1.2],[2,1.99],[3,1.3],[4,-0.4],[5,-1.8],[6,-0.9],[7,0.2],[8,-0.1],[10,-0.15],[12,-0.21],[16,-0.31],[20,-0.39],[28,-0.50],[38,-0.55],[50,-0.59],[75,-0.62],[106,-0.64],[140,-0.66],[183,-0.675],[253,-0.685],[350,-0.69],[500,-0.695],[700,-0.70],[1000,-0.70]];
const Y2 = [[0,-0.71],[1,-1.5],[2,-1.98],[3,-0.8],[4,1.5],[5,1.95],[6,0.5],[7,-0.3],[9,-0.2],[12,-0.24],[16,-0.33],[20,-0.41],[28,-0.52],[38,-0.57],[50,-0.61],[75,-0.64],[106,-0.655],[140,-0.675],[183,-0.69],[253,-0.70],[350,-0.705],[500,-0.71],[700,-0.712],[1000,-0.712]];
const Y3 = [[0,-0.71],[1,0.3],[2,1.8],[3,1.98],[4,0.9],[5,-0.6],[6,-0.1],[8,-0.05],[10,-0.12],[12,-0.18],[16,-0.28],[20,-0.36],[28,-0.47],[38,-0.53],[50,-0.57],[75,-0.60],[106,-0.625],[140,-0.645],[183,-0.66],[253,-0.67],[350,-0.68],[500,-0.685],[700,-0.69],[1000,-0.69]];
const Y4 = [[0,-0.71],[1,-0.2],[2,0.9],[3,1.99],[4,1.9],[5,0.6],[6,-0.4],[8,-0.3],[10,-0.22],[12,-0.27],[16,-0.36],[20,-0.44],[28,-0.54],[38,-0.58],[50,-0.62],[75,-0.65],[106,-0.665],[140,-0.68],[183,-0.695],[253,-0.70],[350,-0.70],[500,-0.705],[700,-0.705],[1000,-0.705]];

// ---------------- assembly ----------------
function band(head, vals, grid){ const g = grid || L_GRID; return head.concat(vals.slice(0, g.length).map((v,i)=>[g[i], v])); }
const RED_RUNS = [R1,R2,R3,R4,R5,R7,R18,band(R8_HEAD,RB_a),band(R9_HEAD,RB_b),R10,R12,band(R14_HEAD,RB_c),band(R15_HEAD,RB_d),band(R16_HEAD,RB_e),band(R17_HEAD,RB_f),
  band(R19_HEAD,RB_g,L_GRID2),band(R20_HEAD,RB_h,L_GRID2),band(R21_HEAD,RB_i,L_GRID2),band(R22_HEAD,RB_j,L_GRID2),band(R23_HEAD,RB_k,L_GRID2),R24];
const BLUE_RUNS = [B1,B2,B3,B4,B5,B6,band(B7_HEAD,BB_a),band(B8_HEAD,BB_b),band(B9_HEAD,BB_c),band(B10_HEAD,BB_d),band(B11_HEAD,BB_e),band(B12_HEAD,BB_f),B13,B14,band(B15_HEAD,BB_g),
  band(B16_HEAD,BB_h,L_GRID2),band(B17_HEAD,BB_i,L_GRID2),band(B18_HEAD,BB_j,L_GRID2),band(B19_HEAD,BB_k,L_GRID2)];
const GREEN_RUNS = [band(G1_HEAD,GB_a),band(G2_HEAD,GB_b),band(G3_HEAD,GB_c),band(G4_HEAD,GB_d),band(G5_HEAD,GB_e),band(G6_HEAD,GB_f),band(G7_HEAD,GB_g),band(G8_HEAD,GB_h),band(G9_HEAD,GB_i),band(G10_HEAD,GB_j),
  band(G11_HEAD,GB_k,L_GRID2),band(G12_HEAD,GB_l,L_GRID2),band(G13_HEAD,GB_m,L_GRID2),band(G14_HEAD,GB_n,L_GRID2)];
const YELLOW_RUNS = [Y1,Y2,Y3,Y4];

const SERIF = '"Liberation Serif","DejaVu Serif",serif';
const C_RED = 'rgba(255,0,0,0.4)', C_BLUE = 'rgba(0,0,255,0.4)', C_GREEN = 'rgba(0,128,0,0.22)', C_YEL = 'rgba(191,191,0,0.55)';
const C_YEL_LEG = 'rgba(191,191,0,0.4)';
const fmtY = v => (v<0?'\u2212':'') + Math.abs(v).toFixed(1);
const fmtTheta = v => (v<0?'\u2212':'') + Math.abs(v);

function axisCfg(min, max, ticks, fmt, isY, w){
  return {
    type:'linear', min:min, max:max,
    afterBuildTicks: a => { a.ticks = ticks.map(v=>({value:v})); },
    afterFit: s => { if(isY) s.width = w; else s.height = 38; },
    grid: {color:'#b0b0b0', lineWidth:0.8, tickColor:'#000', tickLength:4, tickWidth:1, drawTicks:true},
    border: {display:false},
    ticks: {color:'#000', font:{family:SERIF, size:13.5}, padding: isY?4:2, maxRotation:0, autoSkip:false, callback: v=>fmt(v)}
  };
}
function lineDS(pairs, color, width){
  return {data: pairs.map(p=>({x:p[0], y:p[1]})), showLine:true, borderColor:color, borderWidth:width, pointRadius:0, pointHoverRadius:0, tension:0, fill:false, borderJoinStyle:'round', borderCapStyle:'round'};
}
function ptsDS(xs, ys, color, r){
  return {data: xs.map((x,i)=>({x:x, y:ys[i]})), showLine:false, pointRadius:r, pointHoverRadius:r, backgroundColor:color, borderWidth:0, pointBorderWidth:0};
}
function parts(ctx, list, x, y, align){
  let w = 0;
  list.forEach(p=>{ ctx.font = p[1]; w += ctx.measureText(p[0]).width; });
  let cx = align==='center' ? x - w/2 : x;
  list.forEach(p=>{ ctx.font = p[1]; ctx.fillText(p[0], cx, y + (p[2]||0)); cx += ctx.measureText(p[0]).width; });
}
function rrect(ctx, x, y, w, h, r){
  ctx.beginPath();
  ctx.moveTo(x+r,y); ctx.lineTo(x+w-r,y); ctx.quadraticCurveTo(x+w,y,x+w,y+r);
  ctx.lineTo(x+w,y+h-r); ctx.quadraticCurveTo(x+w,y+h,x+w-r,y+h);
  ctx.lineTo(x+r,y+h); ctx.quadraticCurveTo(x,y+h,x,y+h-r);
  ctx.lineTo(x,y+r); ctx.quadraticCurveTo(x,y,x+r,y); ctx.closePath();
}
function legendBox(ctx, x, y, w, h){
  ctx.fillStyle = 'rgba(77,77,77,0.45)';
  rrect(ctx, x+2.5, y+2.5, w, h, 3); ctx.fill();
  ctx.fillStyle = '#fff'; ctx.strokeStyle = '#cccccc'; ctx.lineWidth = 1;
  rrect(ctx, x+0.5, y+0.5, w, h, 3); ctx.fill(); ctx.stroke();
}
const FB = 'bold 13.5px '+SERIF, FI = 'italic 13.5px '+SERIF, FR = '13.5px '+SERIF;

function frameAndLabels(kind){
  return { id:'deco'+kind, afterDraw(chart){
    const ctx = chart.ctx, ca = chart.chartArea;
    ctx.save();
    ctx.strokeStyle = '#000'; ctx.lineWidth = 1;
    ctx.strokeRect(Math.round(ca.left)-0.5, Math.round(ca.top)-0.5, Math.round(ca.right-ca.left)+1, Math.round(ca.bottom-ca.top)+1);
    ctx.fillStyle = '#000'; ctx.textBaseline = 'alphabetic';
    ctx.save(); ctx.translate(19, (ca.top+ca.bottom)/2); ctx.rotate(-Math.PI/2);
    parts(ctx, [['Function ', FB], ['g', FI], ['(', FR], ['θ', FI], [')', FR]], 0, 0, 'center');
    ctx.restore();
    const cx = (ca.left+ca.right)/2;
    if(kind===1){
      parts(ctx, [['θ', FI]], cx, 465, 'center');
      legendBox(ctx, 463.5, 34.5, 65, 57);
      ctx.strokeStyle = '#0000ff'; ctx.lineWidth = 1.8;
      ctx.beginPath(); ctx.moveTo(468, 45.5); ctx.lineTo(494, 45.5); ctx.stroke();
      ctx.fillStyle = '#ffa500'; ctx.beginPath(); ctx.arc(481, 64, 6, 0, 2*Math.PI); ctx.fill();
      ctx.fillStyle = '#808080'; ctx.beginPath(); ctx.arc(481, 82.5, 6, 0, 2*Math.PI); ctx.fill();
      ctx.fillStyle = '#000';
      parts(ctx, [['g', FI], ['(', FR], ['θ', FI], [')', FR]], 503, 50);
      parts(ctx, [['θ', FI], ['0', 'bold 9.5px '+SERIF, 3]], 503, 68.5);
      parts(ctx, [['θ', FI], ['*', '10px '+SERIF, -5]], 503, 87);
    } else {
      parts(ctx, [['Iteration', FB]], cx, 465, 'center');
      const FB17 = 'bold 17px '+SERIF, FI17 = 'italic 17px '+SERIF;
      parts(ctx, [['Influence of ', FB17], ['λ', FI17], [' to find a local minima', FB17]], cx, 20, 'center');
      legendBox(ctx, 439.5, 34.5, 89, 78);
      const cols = [C_RED, C_BLUE, C_GREEN, C_YEL_LEG], ys = [45.5, 63.5, 81.5, 99.5];
      for(let i=0;i<4;i++){
        ctx.strokeStyle = cols[i]; ctx.lineWidth = 1.8;
        ctx.beginPath(); ctx.moveTo(443.5, ys[i]); ctx.lineTo(469.5, ys[i]); ctx.stroke();
        ctx.fillStyle = '#000';
        parts(ctx, [['λ', FI], [' = ', FR], [LEGEND_RIGHT[i], FB]], 479, ys[i]+4.5);
      }
    }
    ctx.restore();
  }};
}

const common = {responsive:false, animation:false, devicePixelRatio:1, events:[],
  plugins:{legend:{display:false}, tooltip:{enabled:false}, title:{display:false}}};

new Chart(document.getElementById('c1'), {
  type:'scatter',
  data:{datasets:[
    ptsDS(STAR_X, STAR_Y, '#000', 3.5),
    ptsDS(STAR_X, STAR_Y, '#808080', 6.5),
    ptsDS([THETA0_X], [THETA0_Y], '#000', 3.5),
    ptsDS([THETA0_X], [THETA0_Y], '#ffa500', 6),
    Object.assign(lineDS(THETA.map((t,i)=>[t, G_VALUES[i]]), '#0000ff', 1.8), {cubicInterpolationMode:'monotone'})
  ]},
  options:Object.assign({}, common, {
    layout:{padding:{left:0, right:5, top:30, bottom:0}},
    scales:{ x: axisCfg(-4, 5, THETA_TICKS, fmtTheta, false), y: axisCfg(-2.18, 2.18, Y_TICKS, fmtY, true, 62) }
  }),
  plugins:[frameAndLabels(1)]
});

const rightSets = [
  ptsDS([1000,1000,1000,1000,1000,1000], STAR_Y, '#000', 3.5),
  ptsDS([1000,1000,1000,1000,1000,1000], STAR_Y, '#808080', 6.5),
  ptsDS([0], [THETA0_Y], '#000', 3.5),
  ptsDS([0], [THETA0_Y], '#ffa500', 6)
];
YELLOW_RUNS.forEach(r=>rightSets.push(lineDS(r, C_YEL, 2.2)));
GREEN_RUNS.forEach(r=>rightSets.push(lineDS(r, C_GREEN, 1.7)));
BLUE_RUNS.forEach(r=>rightSets.push(lineDS(r, C_BLUE, 1.6)));
RED_RUNS.forEach(r=>rightSets.push(lineDS(r, C_RED, 1.6)));
new Chart(document.getElementById('c2'), {
  type:'scatter',
  data:{datasets:rightSets},
  options:Object.assign({}, common, {
    layout:{padding:{left:0, right:5, top:30, bottom:0}},
    scales:{ x: axisCfg(-50, 1050, ITER_TICKS, v=>String(v), false), y: axisCfg(-2.18, 2.18, Y_TICKS, fmtY, true, 60) }
  }),
  plugins:[frameAndLabels(2)]
});
</script>
</body></html>
